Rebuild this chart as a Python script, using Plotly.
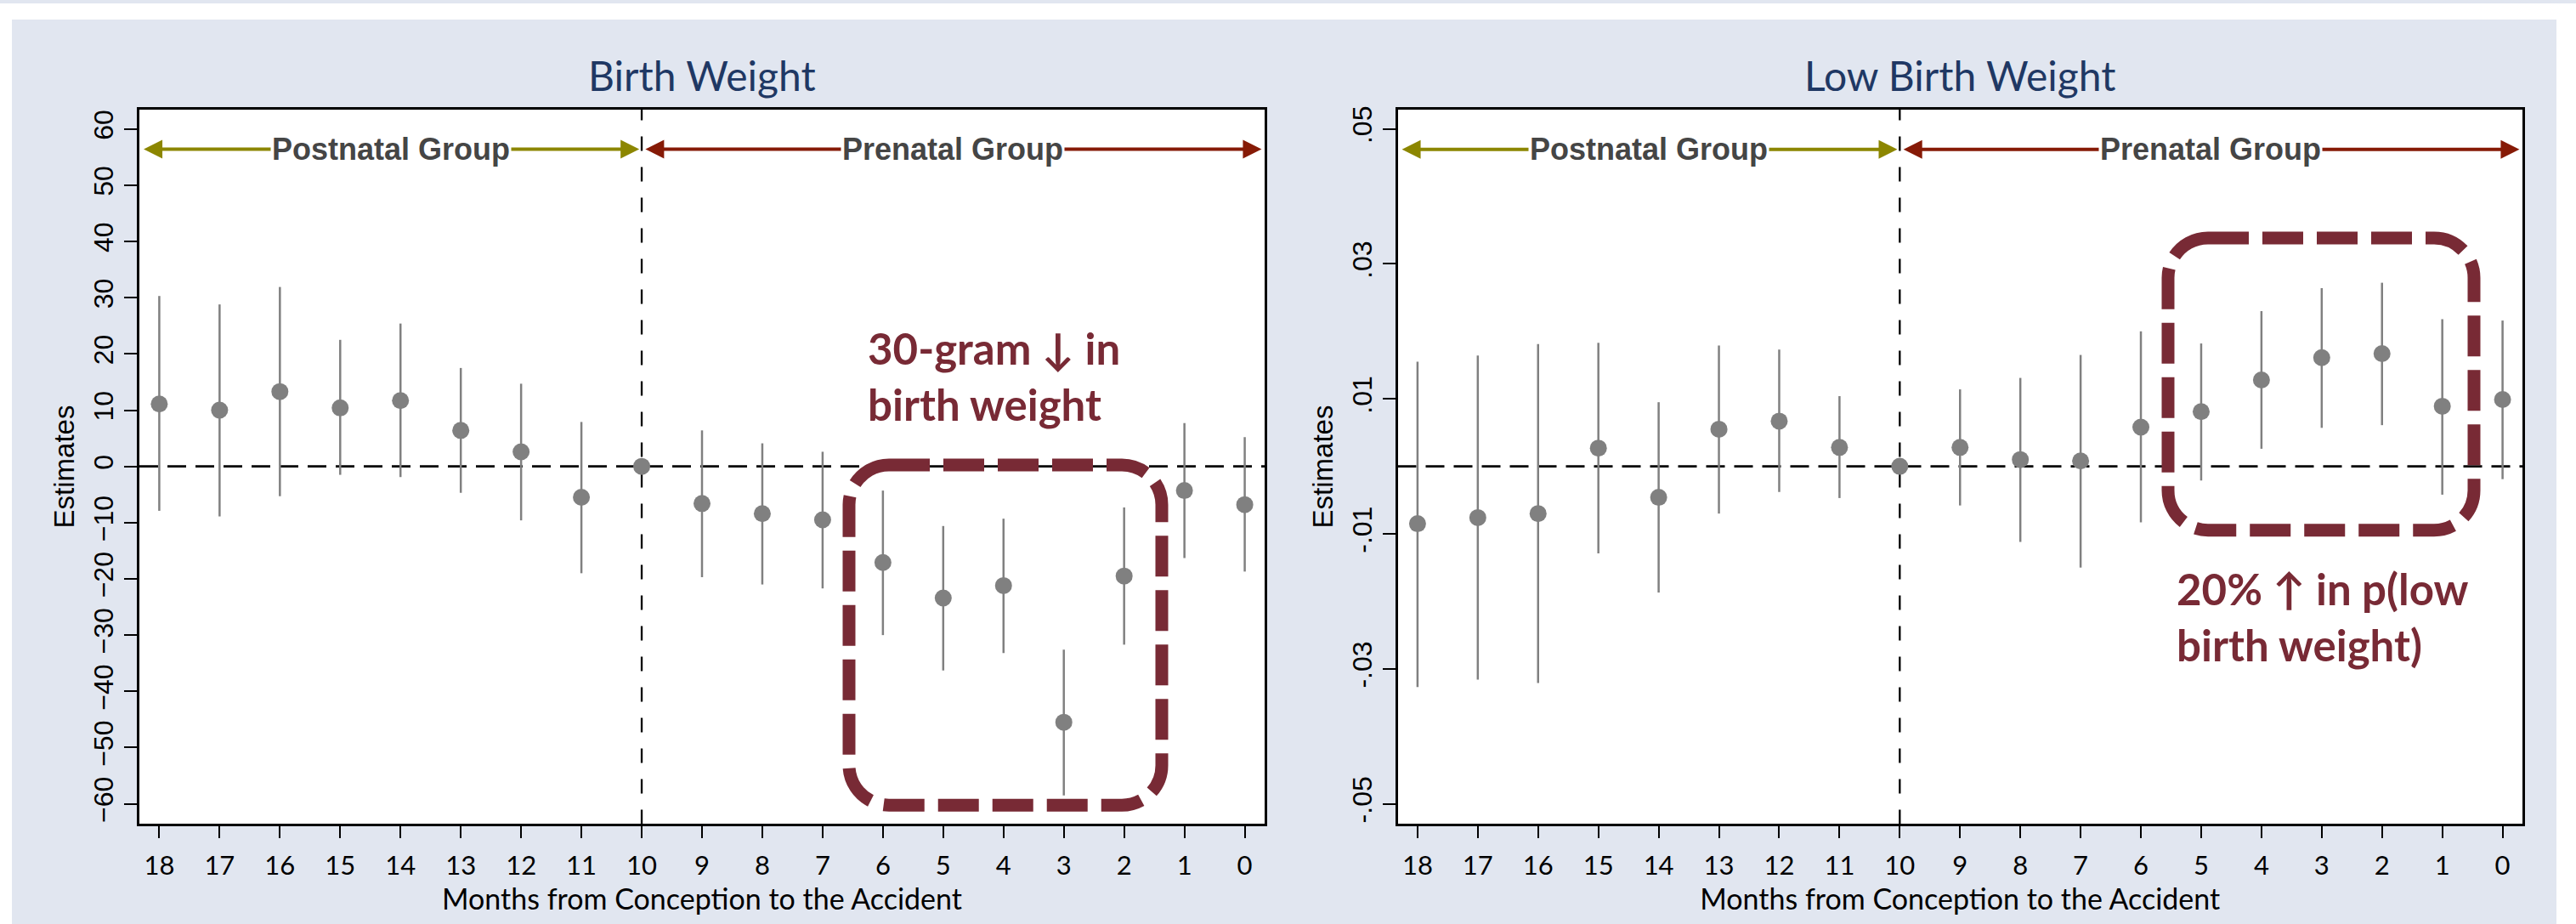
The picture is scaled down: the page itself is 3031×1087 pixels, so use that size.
import plotly.graph_objects as go

# ---------------- data ----------------
months = [18, 17, 16, 15, 14, 13, 12, 11, 10, 9, 8, 7, 6, 5, 4, 3, 2, 1, 0]

bw_est = [11.1, 10.0, 13.3, 10.4, 11.7, 6.4, 2.6, -5.5, 0.0, -6.6, -8.4, -9.5,
          -17.1, -23.4, -21.2, -45.5, -19.5, -4.3, -6.8]
bw_lo = [-7.9, -8.9, -5.3, -1.5, -1.9, -4.7, -9.6, -19.0, 0.0, -19.7, -21.0, -21.7,
         -30.0, -36.3, -33.2, -58.5, -31.7, -16.3, -18.7]
bw_hi = [30.3, 28.8, 31.9, 22.5, 25.4, 17.5, 14.7, 7.9, 0.0, 6.4, 4.1, 2.6,
         -4.3, -10.6, -9.3, -32.6, -7.3, 7.7, 5.2]

lbw_est = [-0.0085, -0.0076, -0.0070, 0.0027, -0.0046, 0.0055, 0.0067, 0.0028, 0.0,
           0.0028, 0.0010, 0.0008, 0.0058, 0.0081, 0.0128, 0.0161, 0.0167, 0.0089, 0.0099]
lbw_lo = [-0.0327, -0.0316, -0.0321, -0.0129, -0.0187, -0.0070, -0.0038, -0.0047, 0.0,
          -0.0058, -0.0112, -0.0150, -0.0083, -0.0021, 0.0026, 0.0057, 0.0061, -0.0042, -0.0019]
lbw_hi = [0.0155, 0.0164, 0.0181, 0.0183, 0.0095, 0.0179, 0.0173, 0.0104, 0.0,
          0.0114, 0.0131, 0.0165, 0.0200, 0.0182, 0.0230, 0.0264, 0.0272, 0.0218, 0.0216]

bw_ticks = [-60, -50, -40, -30, -20, -10, 0, 10, 20, 30, 40, 50, 60]
lbw_ticks = [-0.05, -0.03, -0.01, 0.01, 0.03, 0.05]
lbw_ticktext = ["-.05", "-.03", "-.01", ".01", ".03", ".05"]

titles = ["Birth Weight", "Low Birth Weight"]
x_title = "Months from Conception to the Accident"
y_title = "Estimates"
group_labels = ["Postnatal Group", "Prenatal Group"]
notes = ["30-gram ↓ in<br>birth weight", "20% ↑ in p(low<br>birth weight)"]

# ---------------- layout constants ----------------
W, H = 3031, 1087
BG = "#E1E6F0"
MAROON = "#782A35"
OLIVE = "#8C8600"
RED = "#861A06"
GRAY = "#808080"
NAVY = "#1F3864"
SANS = "Liberation Sans, Arial, sans-serif"
CAL = "Lato, Carlito, sans-serif"


def px(x):
    return x / W


def py(y):
    return 1 - y / H


plot_top, plot_bot = 125, 969
panels = [(164, 1488), (1644.5, 2968)]


def rounded_box(x0, y0, x1, y1, r):
    k = r * 0.5523
    pts = [
        ("M", [(x0 + r, y0)]),
        ("L", [(x1 - r, y0)]),
        ("C", [(x1 - r + k, y0), (x1, y0 + r - k), (x1, y0 + r)]),
        ("L", [(x1, y1 - r)]),
        ("C", [(x1, y1 - r + k), (x1 - r + k, y1), (x1 - r, y1)]),
        ("L", [(x0 + r, y1)]),
        ("C", [(x0 + r - k, y1), (x0, y1 - r + k), (x0, y1 - r)]),
        ("L", [(x0, y0 + r)]),
        ("C", [(x0, y0 + r - k), (x0 + r - k, y0), (x0 + r, y0)]),
    ]
    s = ""
    for cmd, pp in pts:
        s += cmd + " ".join(f"{px(a):.6f},{py(b):.6f}" for a, b in pp) + " "
    return s + "Z"


fig = go.Figure()

series = [(bw_est, bw_lo, bw_hi), (lbw_est, lbw_lo, lbw_hi)]
for i, (est, lo, hi) in enumerate(series):
    xa = "x" if i == 0 else "x2"
    ya = "y" if i == 0 else "y2"
    fig.add_trace(go.Scatter(
        x=months, y=est, mode="markers", xaxis=xa, yaxis=ya,
        marker=dict(size=20, color=GRAY),
        error_y=dict(type="data", symmetric=False,
                     array=[h - e for h, e in zip(hi, est)],
                     arrayminus=[e - l for e, l in zip(est, lo)],
                     width=0, thickness=2.5, color=GRAY),
        showlegend=False, hoverinfo="skip"))

axis_common = dict(showline=True, linewidth=2.5, linecolor="black", mirror=True,
                   showgrid=False, zeroline=False, ticks="outside",
                   tickcolor="black", tickwidth=2)

for i, (l, r) in enumerate(panels):
    sfx = "" if i == 0 else "2"
    xaxis = dict(axis_common, domain=[px(l), px(r)], range=[18.33, -0.33],
                 tickvals=months, ticklen=14, ticklabelstandoff=6,
                 tickfont=dict(family=CAL, size=31, color="black"),
                 title=dict(text=x_title, font=dict(family=CAL, size=34, color="black"),
                            standoff=0),
                 anchor="y" + sfx)
    if i == 0:
        yaxis = dict(axis_common, range=[-63.6, 63.5], tickvals=bw_ticks)
    else:
        yaxis = dict(axis_common, range=[-0.0530, 0.0529], tickvals=lbw_ticks,
                     ticktext=lbw_ticktext)
    yaxis.update(domain=[py(plot_bot), py(plot_top)], ticklen=15, tickangle=-90,
                 tickfont=dict(family=SANS, size=32, color="black"),
                 title=dict(text=y_title, font=dict(family=SANS, size=33, color="black"),
                            standoff=7),
                 anchor="x" + sfx)
    fig.layout["xaxis" + sfx] = xaxis
    fig.layout["yaxis" + sfx] = yaxis

shapes = []
# white strips around the light background
for x0, y0, x1, y1 in [(0, 0, W, 19), (0, 0, 14, H), (3008, 0, W, H)]:
    shapes.append(dict(type="rect", xref="paper", yref="paper", x0=px(x0), x1=px(x1),
                       y0=py(y1), y1=py(y0), fillcolor="white", line_width=0,
                       layer="below"))
for i in range(2):
    sfx = "" if i == 0 else "2"
    shapes.append(dict(type="line", xref="x" + sfx + " domain", yref="y" + sfx,
                       x0=0, x1=1, y0=0, y1=0, layer="below",
                       line=dict(color="black", width=2.7, dash="22px,11px")))
    shapes.append(dict(type="line", xref="x" + sfx, yref="y" + sfx + " domain",
                       x0=10, x1=10, y0=0, y1=1, layer="below",
                       line=dict(color="black", width=2.3, dash="17px,19px")))

boxes = [(999, 545, 1367, 946.7), (2551, 277, 2911, 622)]
for (x0, y0, x1, y1) in boxes:
    shapes.append(dict(type="path", xref="paper", yref="paper",
                       path=rounded_box(x0, y0, x1, y1, 47), layer="above",
                       line=dict(color=MAROON, width=15, dash="48px,16px")))
fig.update_layout(shapes=shapes)

ann = []
# panel titles
centers = [(l + r) / 2 for l, r in panels]
for c, t in zip(centers, titles):
    ann.append(dict(xref="paper", yref="paper", x=px(c), y=py(85), text=t,
                    showarrow=False, xanchor="center", yanchor="middle",
                    font=dict(family=CAL, size=48, color=NAVY)))

# group arrows
arrow_y = [56.4, 0.04696]
tips = [(18.28, 10.04), (9.96, -0.28)]
colors = [OLIVE, RED]
for i in range(2):
    sfx = "" if i == 0 else "2"
    for (a, b), col, lab in zip(tips, colors, group_labels):
        ann.append(dict(xref="x" + sfx, yref="y" + sfx, axref="x" + sfx, ayref="y" + sfx,
                        x=b, y=arrow_y[i], ax=a, ay=arrow_y[i], text="",
                        showarrow=True, arrowside="end+start", arrowhead=2,
                        startarrowhead=2, arrowsize=1.1, startarrowsize=1.1,
                        arrowwidth=4, arrowcolor=col, standoff=0, startstandoff=0))
        ann.append(dict(xref="x" + sfx, yref="y" + sfx, x=(a + b) / 2, y=arrow_y[i],
                        text=lab, showarrow=False, bgcolor="white", borderpad=1,
                        font=dict(family=SANS, size=36, color="#454545", weight="bold")))

# notes
note_pos = [(1019, 374), (2559, 658)]
for (x, y), t in zip(note_pos, notes):
    ann.append(dict(xref="paper", yref="paper", x=px(x), y=py(y), text=t,
                    showarrow=False, xanchor="left", yanchor="top", align="left",
                    font=dict(family=CAL, size=51, color=MAROON, weight="bold")))

fig.update_layout(annotations=ann)

fig.update_layout(width=W, height=H, autosize=False,
                  margin=dict(l=0, r=0, t=0, b=0, pad=0),
                  paper_bgcolor=BG, plot_bgcolor="white", showlegend=False)

fig.write_html("out.html", config={"displayModeBar": False},
               post_script="document.body.style.margin='0px';"
                           "document.body.style.overflow='hidden';")
